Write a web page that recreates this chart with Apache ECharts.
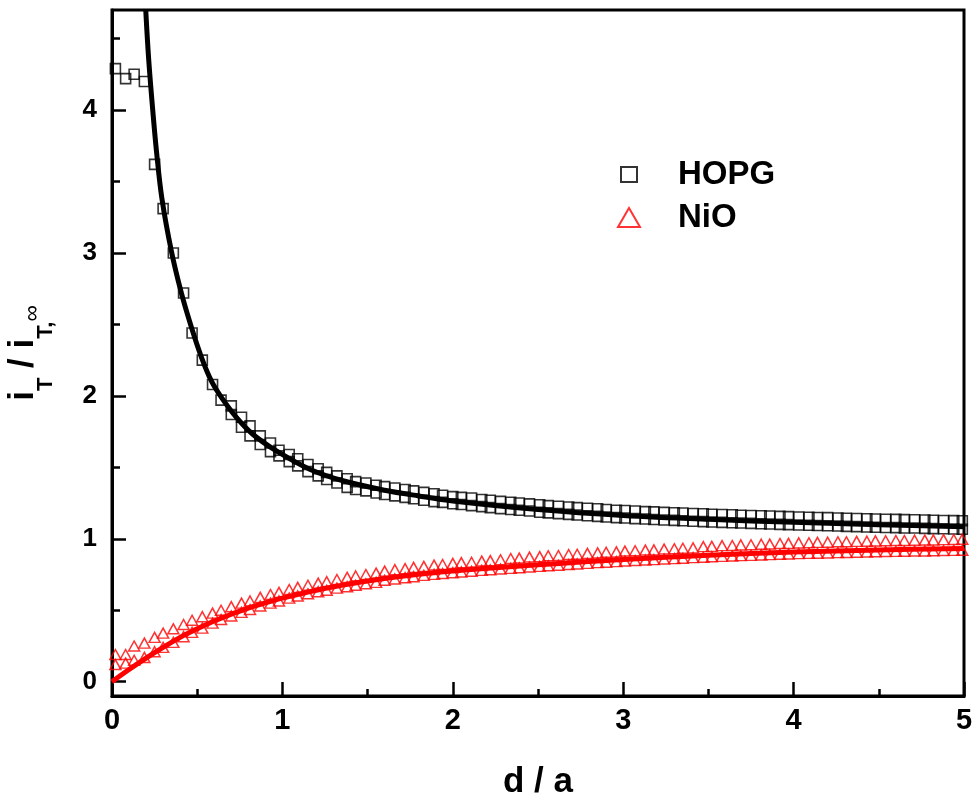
<!DOCTYPE html>
<html>
<head>
<meta charset="utf-8">
<title>Approach curves: HOPG and NiO</title>
<script src="https://cdn.jsdelivr.net/npm/echarts@6/dist/echarts.min.js"></script>
<style>
  html, body { margin: 0; padding: 0; background: #ffffff; }
  #chart { width: 972px; height: 809px; }
</style>
</head>
<body>
<div id="chart"></div>
<script>
// Tip-substrate distance d/a of each recorded point
const dGrid = [
  0.02, 0.08, 0.13, 0.19, 0.25, 0.30, 0.36, 0.42, 0.47, 0.53,
  0.59, 0.64, 0.70, 0.76, 0.81, 0.87, 0.93, 0.98, 1.04, 1.09,
  1.15, 1.21, 1.26, 1.32, 1.38, 1.43, 1.49, 1.55, 1.60, 1.66,
  1.72, 1.77, 1.83, 1.89, 1.94, 2.00, 2.05, 2.11, 2.17, 2.22,
  2.28, 2.34, 2.39, 2.45, 2.51, 2.56, 2.62, 2.68, 2.73, 2.79,
  2.85, 2.90, 2.96, 3.01, 3.07, 3.13, 3.18, 3.24, 3.30, 3.35,
  3.41, 3.47, 3.52, 3.58, 3.64, 3.69, 3.75, 3.81, 3.86, 3.92,
  3.97, 4.03, 4.09, 4.14, 4.20, 4.26, 4.31, 4.37, 4.43, 4.48,
  4.54, 4.60, 4.65, 4.71, 4.77, 4.82, 4.88, 4.94, 4.99
];

// HOPG (conducting): normalised tip current, two recorded sweeps
const hopgSweepA = [
  4.29, 4.22, 4.25, 4.20, 3.62, 3.31, 3.00, 2.72, 2.44, 2.25,
  2.08, 1.97, 1.93, 1.85, 1.79, 1.72, 1.67, 1.62, 1.59, 1.56,
  1.52, 1.49, 1.465, 1.44, 1.42, 1.40, 1.39, 1.375, 1.365, 1.355,
  1.345, 1.335, 1.325, 1.315, 1.305, 1.295, 1.29, 1.285, 1.275, 1.27,
  1.262, 1.256, 1.25, 1.244, 1.238, 1.232, 1.228, 1.222, 1.218, 1.214,
  1.21, 1.205, 1.20, 1.198, 1.194, 1.19, 1.188, 1.185, 1.182, 1.18,
  1.177, 1.175, 1.172, 1.17, 1.168, 1.165, 1.163, 1.161, 1.159, 1.157,
  1.155, 1.153, 1.151, 1.149, 1.148, 1.146, 1.144, 1.142, 1.14, 1.139,
  1.137, 1.136, 1.134, 1.133, 1.131, 1.13, 1.128, 1.127, 1.126
];
const hopgSweepB = [
  null, null, null, null, null, null, null, null, null, null,
  null, null, 1.87, 1.78, 1.72, 1.66, 1.61, 1.58, 1.54, 1.51,
  1.47, 1.44, 1.415, 1.39, 1.36, 1.345, 1.335, 1.32, 1.31, 1.30,
  1.29, 1.28, 1.27, 1.26, 1.255, 1.245, 1.24, 1.232, 1.225, 1.218,
  1.211, 1.205, 1.20, 1.194, 1.186, 1.181, 1.176, 1.171, 1.166, 1.161,
  1.157, 1.152, 1.148, 1.145, 1.141, 1.138, 1.135, 1.132, 1.129, 1.126,
  1.123, 1.12, 1.117, 1.115, 1.112, 1.11, 1.108, 1.105, 1.103, 1.101,
  1.099, 1.097, 1.095, 1.093, 1.091, 1.089, 1.087, 1.085, 1.083, 1.081,
  1.079, 1.078, 1.076, 1.075, 1.073, 1.071, 1.07, 1.068, 1.067
];

// NiO (insulating): normalised tip current, two recorded sweeps
const nioSweepA = [
  0.19, 0.19, 0.25, 0.27, 0.31, 0.34, 0.37, 0.40, 0.43, 0.455,
  0.48, 0.50, 0.525, 0.55, 0.565, 0.59, 0.61, 0.625, 0.645, 0.66,
  0.675, 0.69, 0.70, 0.715, 0.73, 0.74, 0.75, 0.76, 0.774, 0.784,
  0.791, 0.80, 0.807, 0.816, 0.82, 0.828, 0.833, 0.836, 0.844, 0.847,
  0.853, 0.862, 0.865, 0.872, 0.875, 0.881, 0.883, 0.89, 0.892, 0.898,
  0.901, 0.906, 0.908, 0.914, 0.916, 0.921, 0.922, 0.928, 0.93, 0.934,
  0.936, 0.945, 0.947, 0.952, 0.953, 0.957, 0.958, 0.962, 0.963, 0.967,
  0.968, 0.971, 0.972, 0.975, 0.976, 0.979, 0.979, 0.982, 0.983, 0.985,
  0.986, 0.988, 0.988, 0.99, 0.991, 0.992, 0.994, 0.995, 0.997
];
const nioSweepB = [
  0.12, 0.13, 0.15, 0.17, 0.21, 0.24, 0.275, 0.315, 0.345, 0.375,
  0.41, 0.435, 0.46, 0.485, 0.505, 0.53, 0.55, 0.565, 0.585, 0.60,
  0.615, 0.63, 0.64, 0.655, 0.665, 0.675, 0.685, 0.695, 0.71, 0.719,
  0.728, 0.735, 0.744, 0.751, 0.757, 0.763, 0.768, 0.773, 0.779, 0.783,
  0.788, 0.793, 0.797, 0.802, 0.807, 0.811, 0.815, 0.82, 0.824, 0.828,
  0.833, 0.836, 0.84, 0.844, 0.848, 0.851, 0.854, 0.858, 0.861, 0.864,
  0.868, 0.871, 0.874, 0.877, 0.879, 0.882, 0.884, 0.887, 0.889, 0.892,
  0.894, 0.896, 0.898, 0.899, 0.901, 0.903, 0.904, 0.906, 0.908, 0.909,
  0.911, 0.912, 0.913, 0.914, 0.915, 0.916, 0.918, 0.919, 0.92
];

// Theoretical approach curves
const hopgFitD = [0.198, 0.215, 0.239, 0.262, 0.293, 0.349, 0.407, 0.466, 0.525, 0.583,
                  0.642, 0.73, 0.828, 0.965, 1.16, 1.356, 1.6, 1.8, 2.0, 2.5,
                  3.0, 3.5, 4.0, 4.5, 5.0];
const hopgFitI = [4.70, 4.36, 4.00, 3.70, 3.38, 3.01, 2.72, 2.48, 2.27, 2.105,
                  1.99, 1.85, 1.73, 1.615, 1.487, 1.406, 1.34, 1.30, 1.265, 1.205,
                  1.163, 1.136, 1.116, 1.099, 1.085];
const nioFitD = [0, 0.1, 0.2, 0.3, 0.4, 0.5, 0.6, 0.7, 0.8, 0.9,
                 1.0, 1.2, 1.4, 1.6, 1.8, 2.0, 2.25, 2.5, 2.75, 3.0,
                 3.5, 4.0, 4.5, 5.0];
const nioFitI = [0, 0.085, 0.165, 0.24, 0.31, 0.37, 0.425, 0.472, 0.515, 0.552,
                 0.585, 0.64, 0.685, 0.722, 0.752, 0.775, 0.798, 0.818, 0.837, 0.855,
                 0.885, 0.907, 0.922, 0.932];

// Axis tick positions
const yMajorTicks = [0, 1, 2, 3, 4];
const yMinorTicks = [0.5, 1.5, 2.5, 3.5, 4.5];

const pairs = (xs, ys) => xs.map((x, i) => [x, ys[i]]).filter(p => p[1] !== null && p[1] !== undefined);

const FONT = 'Liberation Sans, Arial, Helvetica, sans-serif';
const RED = '#ff0000';

const squareStyle = { color: 'transparent', borderColor: '#000000', borderWidth: 1.6 };
const triangleStyle = { color: 'transparent', borderColor: RED, borderWidth: 1.5 };

const chart = echarts.init(document.getElementById('chart'), null, { renderer: 'canvas' });

chart.setOption({
  backgroundColor: '#ffffff',
  animation: false,
  grid: {
    left: 112, right: 8, top: 10, bottom: 113,
    outerBoundsMode: 'none',
    containLabel: false,
    show: true, borderColor: '#000000', borderWidth: 3, backgroundColor: 'transparent'
  },
  legend: {
    orient: 'vertical',
    left: 617, top: 158,
    padding: 0,
    itemGap: 10,
    itemWidth: 22, itemHeight: 19,
    selectedMode: false,
    textStyle: {
      fontFamily: FONT, fontSize: 33, fontWeight: 'bold', color: '#000000',
      lineHeight: 33, padding: [0, 0, 0, 33]
    },
    data: [
      { name: 'HOPG', icon: 'path://M0,0M22,19M3,2L19,2L19,17L3,17Z',
        itemStyle: { color: 'transparent', borderColor: '#000000', borderWidth: 2 } },
      { name: 'NiO', icon: 'path://M11,0L22,19L0,19Z',
        itemStyle: { color: 'transparent', borderColor: RED, borderWidth: 2 } }
    ]
  },
  xAxis: {
    type: 'value',
    min: 0, max: 5, interval: 1,
    name: 'd / a',
    nameLocation: 'middle',
    nameGap: 69,
    nameTextStyle: { fontFamily: FONT, fontSize: 35, fontWeight: 'bold', color: '#000000' },
    axisLine: { show: true, onZero: false, lineStyle: { color: '#000000', width: 3 } },
    axisTick: { show: true, inside: true, length: 14, lineStyle: { color: '#000000', width: 2.5 } },
    minorTick: { show: true, splitNumber: 2, length: 7, lineStyle: { color: '#000000', width: 2.5 } },
    axisLabel: {
      show: true, margin: 10, showMinLabel: true, showMaxLabel: true,
      fontFamily: FONT, fontSize: 29, fontWeight: 'bold', color: '#000000'
    },
    splitLine: { show: false },
    minorSplitLine: { show: false }
  },
  yAxis: [
    {
      type: 'value',
      min: -0.1, max: 4.7,
      name: '{m|i}{s|T}{m| / i}{s|T,}{inf|∞}',
      nameLocation: 'middle',
      nameGap: 55,
      nameTextStyle: {
        fontFamily: FONT, color: '#000000',
        rich: {
          m: { fontFamily: FONT, fontSize: 35, fontWeight: 'bold', color: '#000000' },
          s: { fontFamily: FONT, fontSize: 22, fontWeight: 'bold', color: '#000000', padding: [46, 0, 0, 0] },
          inf: { fontFamily: FONT, fontSize: 23, fontWeight: 'normal', color: '#000000', padding: [20, 0, 0, 0] }
        }
      },
      axisLine: { show: true, onZero: false, lineStyle: { color: '#000000', width: 3 } },
      axisTick: {
        show: true, inside: true, length: 14, customValues: yMajorTicks,
        lineStyle: { color: '#000000', width: 2.5 }
      },
      axisLabel: {
        show: true, margin: 15, customValues: yMajorTicks,
        fontFamily: FONT, fontSize: 26, fontWeight: 'bold', color: '#000000'
      },
      splitLine: { show: false }
    },
    {
      type: 'value',
      min: -0.1, max: 4.7,
      position: 'left',
      axisLine: { show: false },
      axisTick: {
        show: true, inside: true, length: 8, customValues: yMinorTicks,
        lineStyle: { color: '#000000', width: 2.5 }
      },
      axisLabel: { show: false },
      splitLine: { show: false }
    }
  ],
  series: [
    {
      name: 'HOPG', type: 'scatter', symbol: 'rect', symbolSize: 10,
      data: pairs(dGrid, hopgSweepA), itemStyle: squareStyle, z: 2, silent: true
    },
    {
      name: 'HOPG', type: 'scatter', symbol: 'rect', symbolSize: 10,
      data: pairs(dGrid, hopgSweepB), itemStyle: squareStyle, z: 2, silent: true
    },
    {
      name: 'NiO', type: 'scatter', symbol: 'triangle', symbolSize: [11, 10],
      data: pairs(dGrid, nioSweepA), itemStyle: triangleStyle, z: 2, silent: true
    },
    {
      name: 'NiO', type: 'scatter', symbol: 'triangle', symbolSize: [11, 10],
      data: pairs(dGrid, nioSweepB), itemStyle: triangleStyle, z: 2, silent: true
    },
    {
      name: 'HOPG theory', type: 'line', smooth: 0.35, showSymbol: false, symbol: 'none',
      data: pairs(hopgFitD, hopgFitI), lineStyle: { color: '#000000', width: 5 },
      z: 3, silent: true, clip: true
    },
    {
      name: 'NiO theory', type: 'line', smooth: 0.35, showSymbol: false, symbol: 'none',
      data: pairs(nioFitD, nioFitI), lineStyle: { color: RED, width: 5 },
      z: 3, silent: true, clip: true
    }
  ]
});
</script>
</body>
</html>
